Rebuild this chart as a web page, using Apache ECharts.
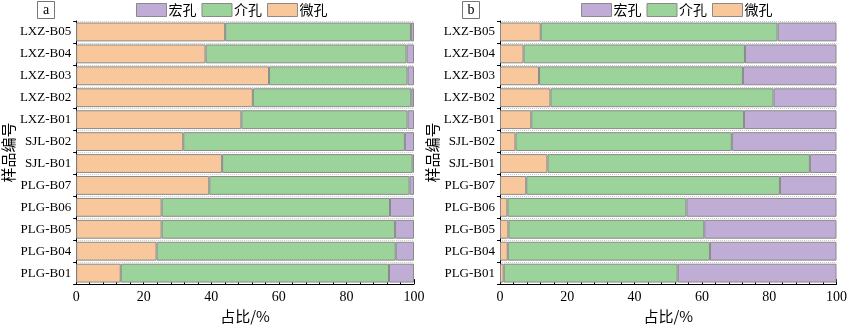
<!DOCTYPE html>
<html><head><meta charset="utf-8">
<script src="https://cdn.jsdelivr.net/npm/echarts@6/dist/echarts.min.js"></script>
<style>html,body{margin:0;padding:0;background:#fff}#c{width:850px;height:329px}</style>
</head><body><div id="c"></div>
<script>
const categories = ['PLG-B01','PLG-B04','PLG-B05','PLG-B06','PLG-B07','SJL-B01','SJL-B02','LXZ-B01','LXZ-B02','LXZ-B03','LXZ-B04','LXZ-B05'];
const xTicks = [0, 20, 40, 60, 80, 100];
// panel a
const microA = [13.2, 23.8, 25.3, 25.3, 39.4, 43.2, 31.7, 48.9, 52.3, 57.1, 38.3, 44.1];
const mesoA  = [79.4, 70.8, 69.1, 67.6, 59.3, 56.4, 65.6, 49.2, 46.9, 41.0, 59.5, 55.0];
const macroA = [7.4, 5.4, 5.6, 7.1, 1.3, 0.4, 2.7, 1.9, 0.8, 1.9, 2.2, 0.9];
// panel b
const microB = [1.1, 2.3, 2.5, 2.2, 7.8, 14.1, 4.6, 9.3, 15.0, 11.6, 7.0, 12.1];
const mesoB  = [51.7, 60.1, 58.2, 53.2, 75.4, 78.0, 64.3, 63.2, 66.3, 60.6, 65.8, 70.4];
const macroB = [47.2, 37.6, 39.3, 44.6, 16.8, 7.9, 31.1, 27.5, 18.7, 27.8, 27.2, 17.5];
const names = ['宏孔', '介孔', '微孔'];
const colors = {'宏孔': '#BFADD6', '介孔': '#9BD39A', '微孔': '#F8C79B'};

const serif = '"Liberation Serif", "Times New Roman", serif';
const cjk = '"Noto Sans CJK SC", sans-serif';
const chart = echarts.init(document.getElementById('c'));
const grids = [
  {left: 74, right: 436, top: 21, bottom: 35},
  {left: 500, right: 11, top: 21, bottom: 35}
];
function xAxis(i){
  return {type:'value', gridIndex:i, min:0, max:100, interval:20,
    name:'占比/%', nameLocation:'middle', nameGap:20,
    nameTextStyle:{fontFamily:cjk, fontSize:15, color:'#000'},
    axisLine:{show:true, lineStyle:{color:'#000', width:1}},
    axisTick:{show:true, inside:true, length:5, lineStyle:{color:'#000'}},
    minorTick:{show:true, splitNumber:5, length:3, lineStyle:{color:'#000'}},
    axisLabel:{fontFamily:serif, fontSize:14, color:'#000', margin:6,
      formatter: v => xTicks.includes(v) ? String(v) : ''},
    splitLine:{show:false}};
}
function yAxis(i){
  return {type:'category', gridIndex:i, data:categories,
    name:'样品编号', nameLocation:'middle', nameGap:57, nameRotate:90,
    nameTextStyle:{fontFamily:cjk, fontSize:15, color:'#000'},
    axisLine:{show:true, lineStyle:{color:'#000', width:1}},
    axisTick:{show:true, length:3, lineStyle:{color:'#000'}},
    axisLabel:{fontFamily:serif, fontSize:13, color:'#000', margin:5},
    splitLine:{show:true, lineStyle:{color:'#c8c8c8', type:'dotted', width:1}}};
}
function series(name, data, i){
  return {name, type:'bar', stack:'s'+i, xAxisIndex:i, yAxisIndex:i, data,
    barCategoryGap:'14%',
    itemStyle:{color:colors[name], borderColor:'#8a8a8a', borderWidth:1}};
}
const legendBase = {itemWidth:30, itemHeight:13, itemGap:5, icon:'rect', selectedMode:false, padding:0,
  textStyle:{fontFamily:cjk, fontSize:14, color:'#000', padding:[0,0,0,-3]}, data:names, top:3,
  itemStyle:{borderColor:'#8a8a8a', borderWidth:1}};
chart.setOption({
  animation:false,
  grid:grids,
  legend:[Object.assign({left:136}, legendBase), Object.assign({left:581}, legendBase)],
  xAxis:[xAxis(0), xAxis(1)],
  yAxis:[yAxis(0), yAxis(1)],
  series:[
    series('微孔', microA, 0), series('介孔', mesoA, 0), series('宏孔', macroA, 0),
    series('微孔', microB, 1), series('介孔', mesoB, 1), series('宏孔', macroB, 1)
  ],
  graphic:[
    {type:'group', left:37, top:1, children:[
      {type:'rect', shape:{x:0,y:0,width:17,height:17}, style:{fill:'#fff', stroke:'#777', lineWidth:1}},
      {type:'text', x:8.5, y:8.5, style:{text:'a', font:'14px '+serif, fill:'#000', align:'center', verticalAlign:'middle'}}
    ]},
    {type:'group', left:462, top:1, children:[
      {type:'rect', shape:{x:0,y:0,width:17,height:17}, style:{fill:'#fff', stroke:'#777', lineWidth:1}},
      {type:'text', x:8.5, y:8.5, style:{text:'b', font:'14px '+serif, fill:'#000', align:'center', verticalAlign:'middle'}}
    ]}
  ]
});
</script></body></html>
